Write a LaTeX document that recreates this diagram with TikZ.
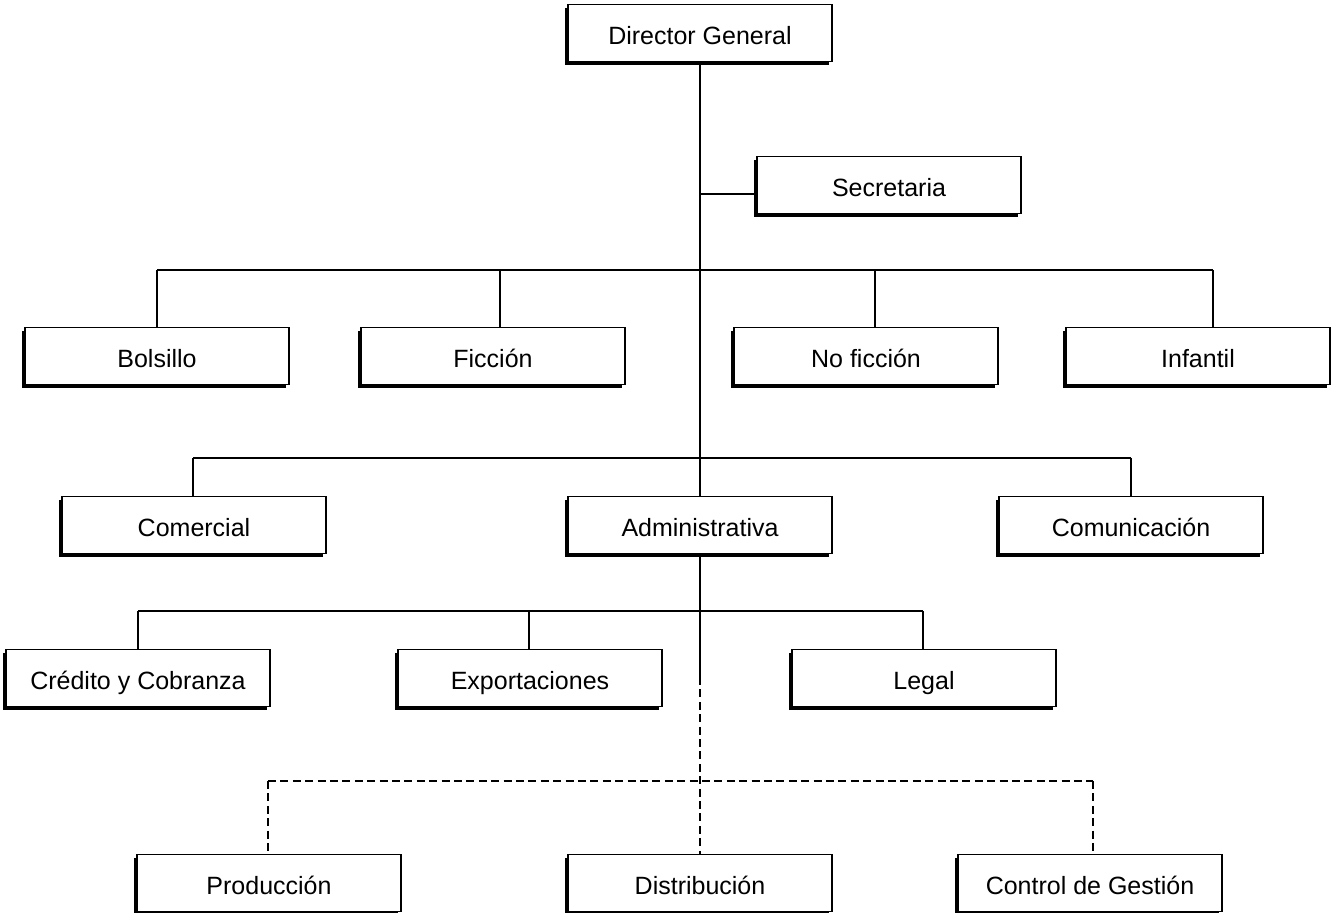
\documentclass[tikz,border=0pt]{standalone}
\usepackage{fontspec}
\setmainfont{Liberation Sans}
\usetikzlibrary{shadows}
\tikzstyle{unit}=[rectangle, draw, line width=0.7pt, fill=white, inner sep=0pt, minimum width=132pt, minimum height=28.5pt, text height=11.5pt, text depth=0pt, font=\fontsize{12.5}{14}\selectfont, drop shadow={shadow xshift=-1.6pt, shadow yshift=-1.6pt, fill=black, opacity=1}]
\tikzstyle{link}=[line width=0.9pt]
\tikzstyle{staff}=[line width=0.9pt, dash pattern=on 4pt off 2.2pt]
\begin{document}
\begin{tikzpicture}[x=0.5pt,y=-0.5pt]
				\useasboundingbox (0,0) rectangle (1334,913);

				%The head
				\draw (700,33) node[unit] (dg) {Director General};
				\draw (889,185) node[unit] (sec) {Secretaria};

				%The collections
				\draw (157,356) node[unit] (bol) {Bolsillo};
				\draw (493,356) node[unit] (fic) {Ficción};
				\draw (866,356) node[unit] (nof) {No ficción};
				\draw (1198,356) node[unit] (inf) {Infantil};

				%The directions
				\draw (194,525) node[unit] (com) {Comercial};
				\draw (700,525) node[unit] (adm) {Administrativa};
				\draw (1131,525) node[unit] (comu) {Comunicación};

				%Under Administrativa
				\draw (138,678) node[unit] (cred) {Crédito y Cobranza};
				\draw (530,678) node[unit] (exp) {Exportaciones};
				\draw (924,678) node[unit] (leg) {Legal};

				%Staff units
				\draw (269,883) node[unit] (prod) {Producción};
				\draw (700,883) node[unit] (dist) {Distribución};
				\draw (1090,883) node[unit] (ctrl) {Control de Gestión};

				%The bars
				\coordinate (s) at (700,194);
				\coordinate (a1) at (157,270);
				\coordinate (a2) at (500,270);
				\coordinate (a3) at (875,270);
				\coordinate (a4) at (1213,270);
				\coordinate (b1) at (193,458);
				\coordinate (b2) at (1131,458);
				\coordinate (c1) at (138,611);
				\coordinate (c2) at (529,611);
				\coordinate (c3) at (923,611);
				\coordinate (d0) at (700,677);
				\coordinate (d1) at (268,781);
				\coordinate (d2) at (1093,781);

				\draw[link] (dg) -- (adm);
				\draw[link] (s) -- (s -| sec.west);

				\draw[link] (a1) -- (a4);
				\draw[link] (a1) -- (a1 |- bol.north);
				\draw[link] (a2) -- (a2 |- fic.north);
				\draw[link] (a3) -- (a3 |- nof.north);
				\draw[link] (a4) -- (a4 |- inf.north);

				\draw[link] (b1) -- (b2);
				\draw[link] (b1) -- (b1 |- com.north);
				\draw[link] (b2) -- (b2 |- comu.north);

				\draw[link] (adm) -- (d0);
				\draw[link] (c1) -- (c3);
				\draw[link] (c1) -- (c1 |- cred.north);
				\draw[link] (c2) -- (c2 |- exp.north);
				\draw[link] (c3) -- (c3 |- leg.north);

				\draw[staff] (d0) -- (dist);
				\draw[staff] (d1) -- (d2);
				\draw[staff] (d1) -- (d1 |- prod.north);
				\draw[staff] (d2) -- (d2 |- ctrl.north);
			\end{tikzpicture}
\end{document}
